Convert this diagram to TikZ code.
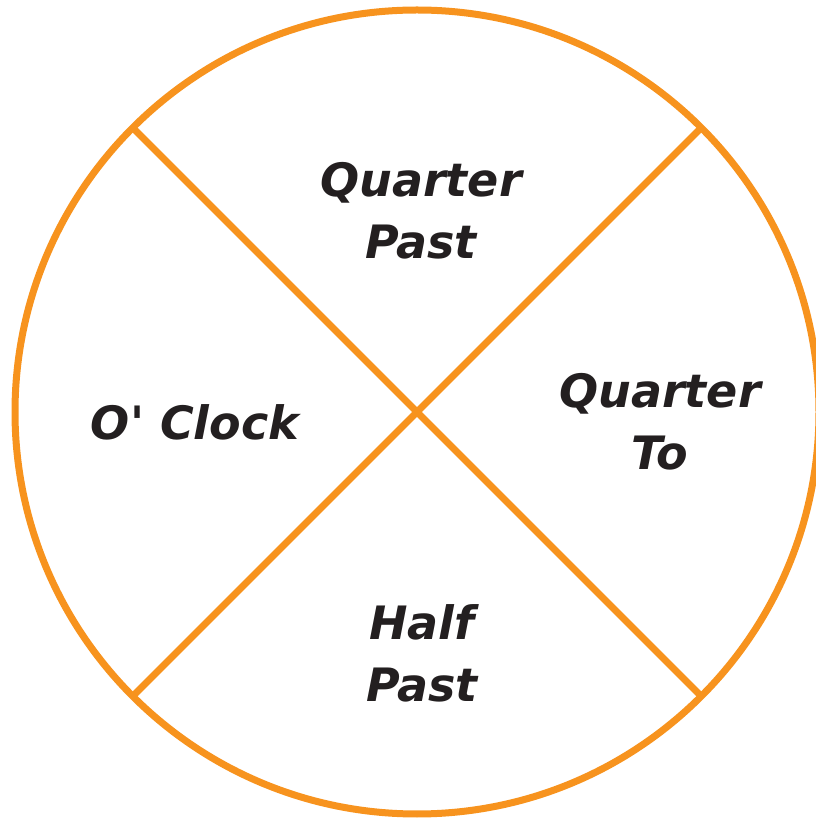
\documentclass[tikz,border=0pt]{standalone}
\usepackage{fontspec}
\setsansfont{DejaVu Sans}
\usepackage{tikz}
\usetikzlibrary{positioning}
\definecolor{DialOrange}{RGB}{247,147,30}
\definecolor{DialInk}{RGB}{35,31,32}

\begin{document}
\begin{tikzpicture}[
  x=1pt,y=1pt,
  rim/.style={
    draw=DialOrange,line width=7pt,circle,
    minimum size=804pt,inner sep=0pt,outer sep=0pt
  },
  spoke/.style={DialOrange,line width=7pt},
  part/.style={
    align=center,text=DialInk,
    font=\sffamily\bfseries\itshape\fontsize{46}{62}\selectfont
  }
]
  \useasboundingbox (0,0) rectangle (816,820);
  \node[rim] (dial) at (417,408) {};
  \draw[spoke] (dial.north west) -- (dial.south east);
  \draw[spoke] (dial.north east) -- (dial.south west);
  \node[part] (past) at (421,609) {Quarter\\Past};
  \node[part] (oclock) at (195,398) {O\textquotesingle{} Clock};
  \node[part] (to) at (660,398) {Quarter\\To};
  \node[part] (half) at (422,167) {Half\\Past};
\end{tikzpicture}
\end{document}
